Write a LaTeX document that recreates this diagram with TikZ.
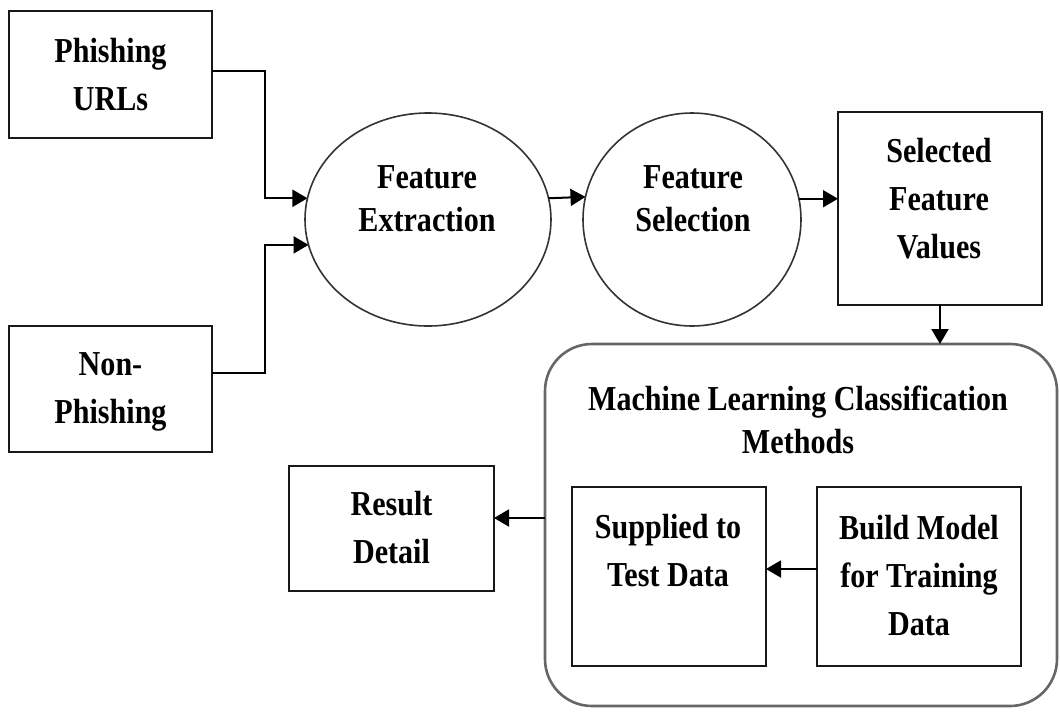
\documentclass[tikz,border=0pt]{standalone}
\usepackage{fontspec}
\setmainfont{Liberation Serif}[FakeStretch=0.86]
\usetikzlibrary{arrows.meta,shapes.geometric}

\tikzset{
  box/.style={draw=black!90, line width=1.8pt, rectangle, inner sep=0pt, outer sep=0pt},
  oval/.style={draw=black!80, line width=1.6pt, ellipse, inner sep=0pt, outer sep=0pt},
  group/.style={draw=black!60, line width=2.6pt, rectangle, rounded corners=47pt, inner sep=0pt, outer sep=0pt},
  txt/.style={align=center, inner sep=0pt, text depth=0pt,
              font=\bfseries\fontsize{35}{48}\selectfont},
  tighttxt/.style={txt, font=\bfseries\fontsize{35}{43}\selectfont},
  conn/.style={draw=black, line width=2pt},
  arr/.style={conn, -{Triangle[length=15pt,width=17pt]}},
}

\begin{document}
\begin{tikzpicture}[x=1pt, y=-1pt]
  \useasboundingbox (0,0) rectangle (1060,713);

  % input sources
  \node[box, minimum width=203pt, minimum height=127pt] (ph) at (110.5,74.5) {};
  \node[txt] (ph-t) at (110.5,74) {Phishing\\URLs};
  \node[box, minimum width=203pt, minimum height=126pt] (np) at (110.5,389) {};
  \node[txt] (np-t) at (110.5,388.5) {Non-\\Phishing};

  % feature stages
  \node[oval, minimum width=246pt, minimum height=213pt] (fe) at (428,219.5) {};
  \node[tighttxt] (fe-t) at (427,199) {Feature\\Extraction};
  \node[oval, minimum width=218pt, minimum height=213pt] (fs) at (692,219.5) {};
  \node[tighttxt] (fs-t) at (693,199) {Feature\\Selection};
  \node[box, minimum width=204pt, minimum height=193pt] (sv) at (940,208.5) {};
  \node[txt] (sv-t) at (939,198) {Selected\\Feature\\Values};

  % classification group
  \node[group, minimum width=512pt, minimum height=362pt] (ml) at (801,525) {};
  \node[tighttxt] (ml-t) at (798,420) {Machine Learning Classification\\Methods};
  \node[box, minimum width=194pt, minimum height=179pt] (st) at (669,576.5) {};
  \node[txt] (st-t) at (668,550) {Supplied to\\Test Data};
  \node[box, minimum width=204pt, minimum height=179pt] (bm) at (919,576.5) {};
  \node[txt] (bm-t) at (919,575) {Build Model\\for Training\\Data};

  % output
  \node[box, minimum width=205pt, minimum height=125pt] (rd) at (391.5,528.5) {};
  \node[txt] (rd-t) at (391.5,527) {Result\\Detail};

  % connectors
  \coordinate (jx) at (265,0);
  \coordinate (phout) at ([yshift=3.5pt]ph.east);
  \coordinate (npout) at ([yshift=16pt]np.east);
  \draw[arr] (phout) -| (jx |- fe.170.4) -- (fe.170.4);
  \draw[arr] (npout) -| (jx |- fe.192.05) -- (fe.192.05);
  \draw[arr] (fe.10.1) -- (fs.168.6);
  \draw[arr] (fs.11.4) -- (fs.11.4 -| sv.west);
  \draw[arr] (sv.south) -- (sv.south |- ml.north);
  \coordinate (stin) at ([yshift=7.5pt]st.east);
  \draw[arr] (stin -| bm.west) -- (stin);
  \coordinate (rdin) at ([yshift=10.5pt]rd.east);
  \draw[arr] (rdin -| ml.west) -- (rdin);
\end{tikzpicture}
\end{document}
